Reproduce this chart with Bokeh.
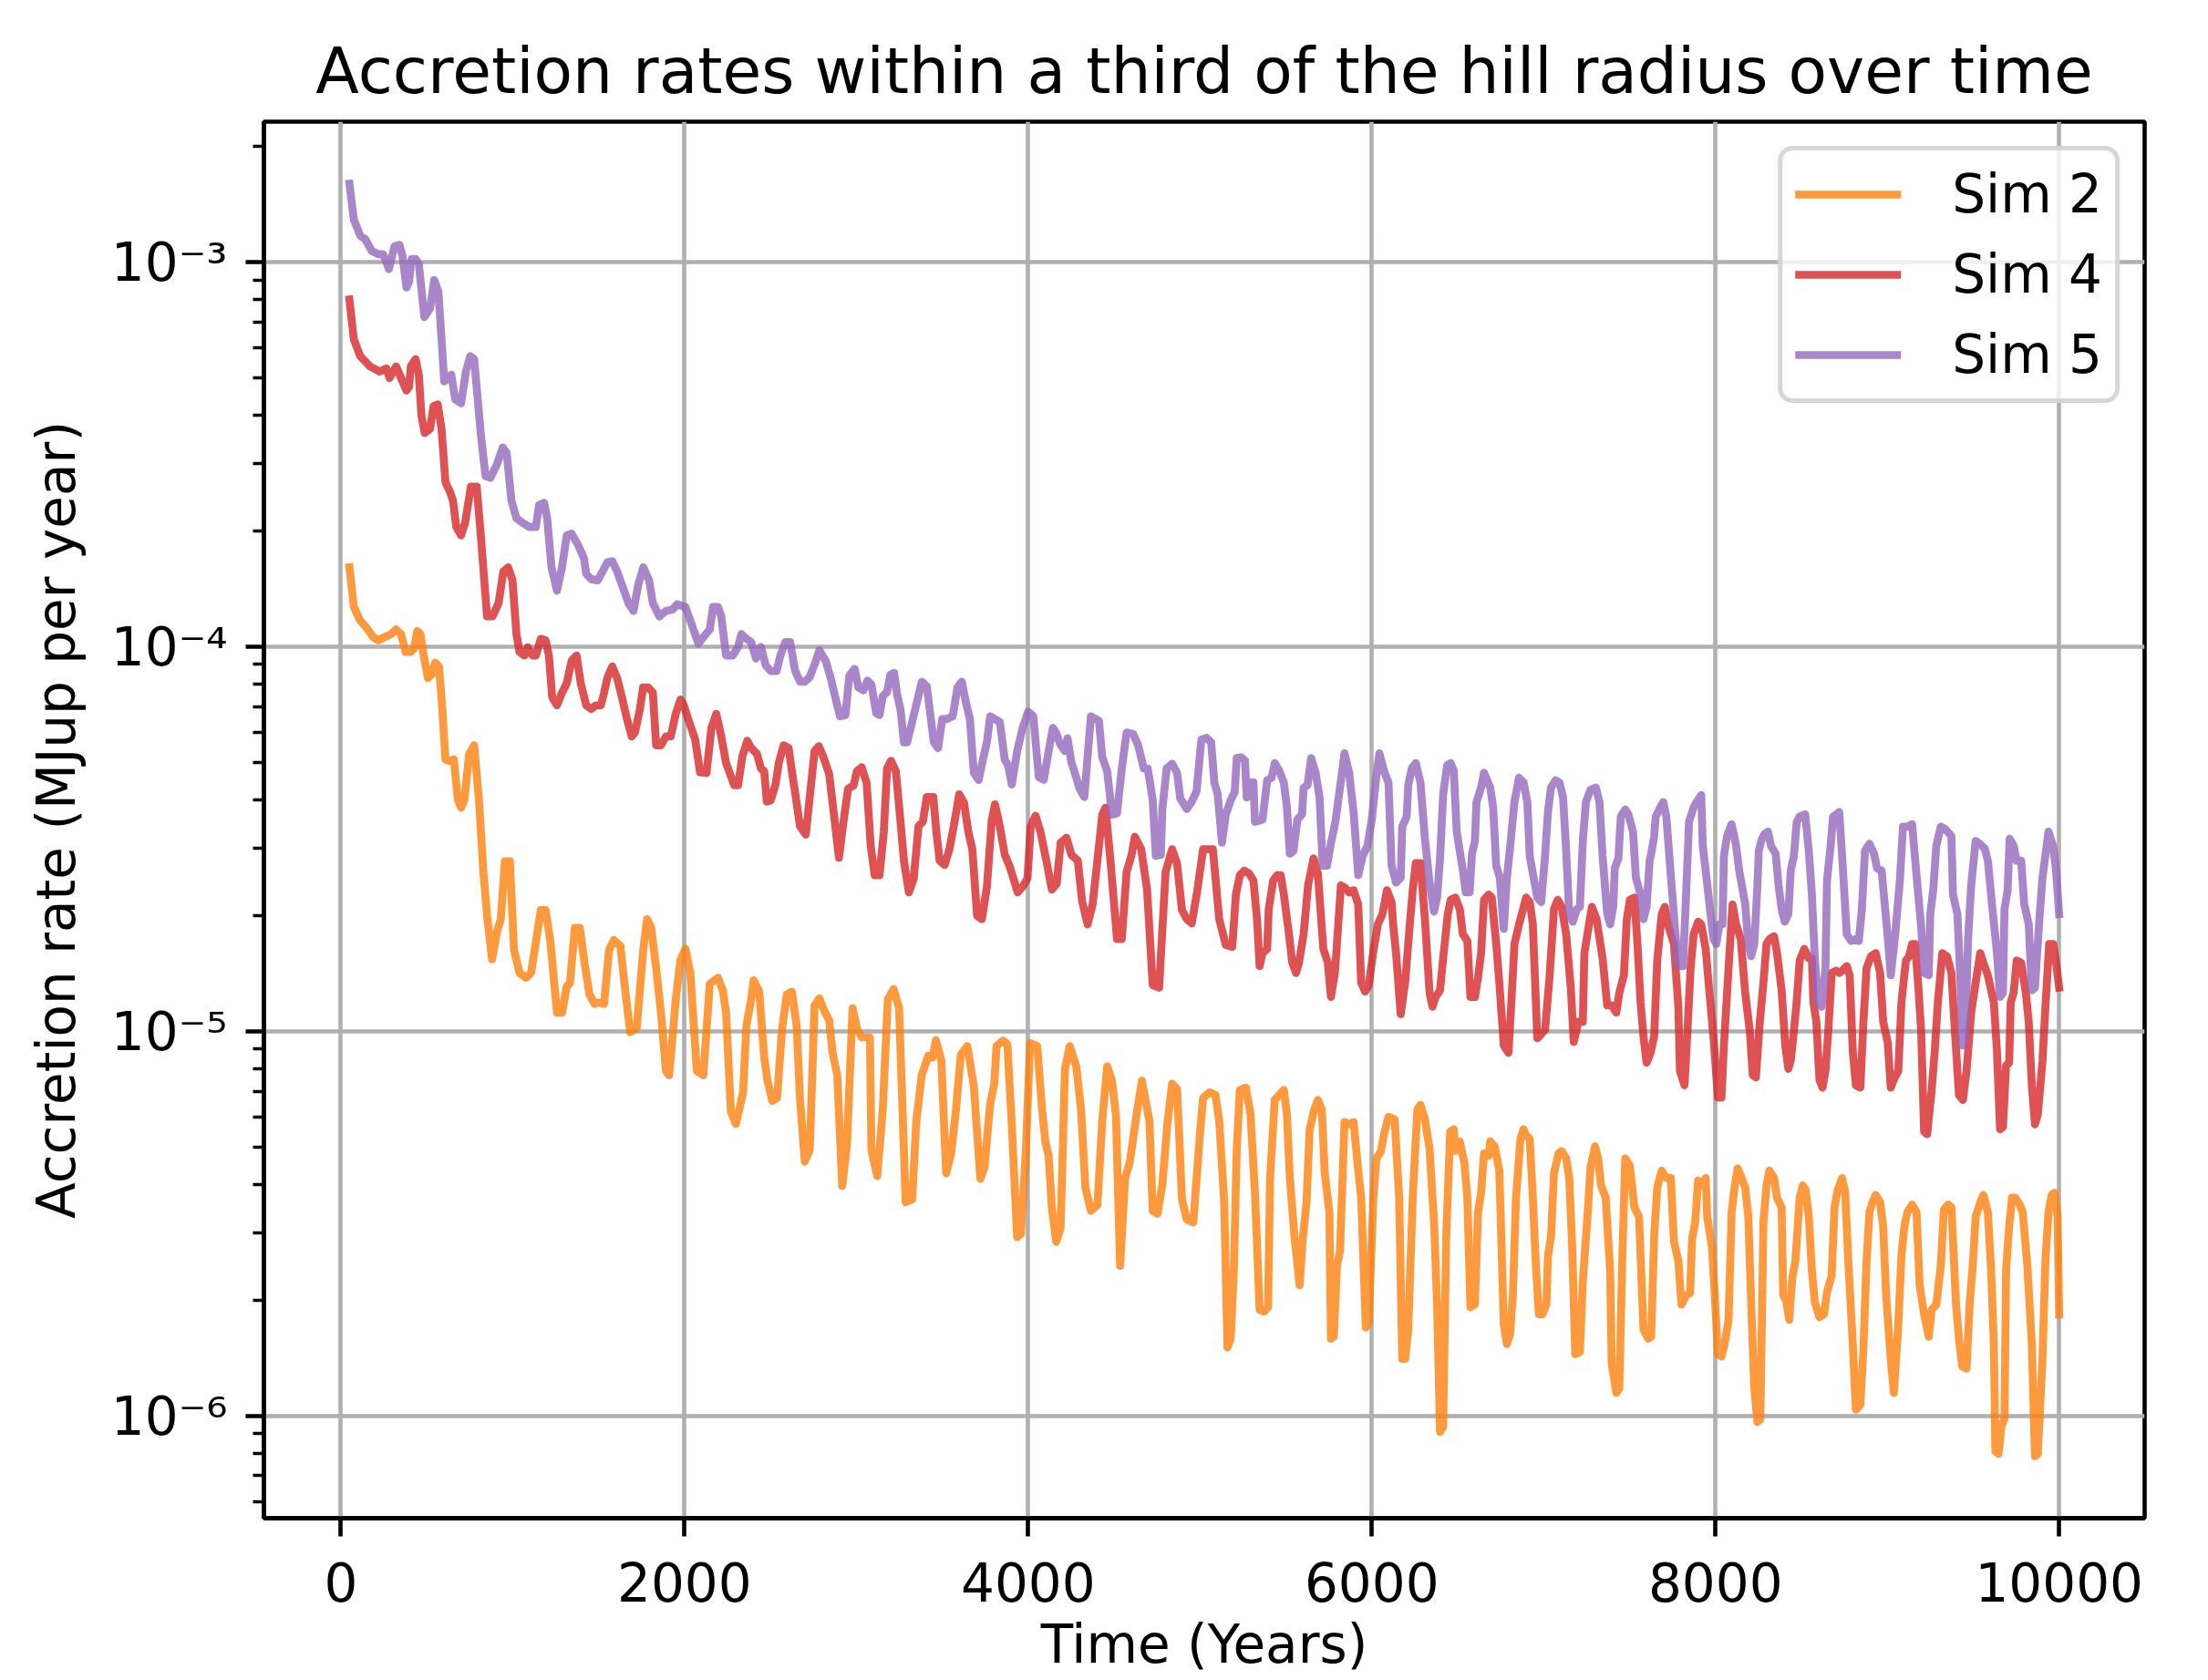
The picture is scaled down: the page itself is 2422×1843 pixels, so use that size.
from bokeh.plotting import figure
from bokeh.models import FixedTicker, Range1d
from bokeh.embed import file_html
from bokeh.resources import INLINE

FONT = "DejaVu Sans"
TITLE = "Accretion rates within a third of the hill radius over time"

# ---------------- data ----------------
sim2_years = [50, 76, 113, 151, 189, 217, 255, 293, 322, 350, 378, 407, 426, 445, 463, 482, 507, 530, 549, 571,
    586, 609, 634, 658, 681, 700, 719, 747, 776, 804, 829, 851, 880, 908, 931, 955, 984, 1008, 1040, 1078,
    1107, 1135, 1164, 1192, 1220, 1258, 1287, 1315, 1334, 1362, 1391, 1419, 1447, 1476, 1495, 1532, 1561, 1589, 1627, 1655,
    1684, 1722, 1760, 1782, 1807, 1835, 1863, 1892, 1911, 1949, 1977, 2006, 2034, 2072, 2110, 2147, 2195, 2223, 2242, 2270,
    2299, 2341, 2360, 2388, 2403, 2435, 2464, 2483, 2511, 2539, 2568, 2596, 2625, 2653, 2672, 2700, 2729, 2757, 2785, 2814,
    2842, 2861, 2889, 2918, 2946, 2978, 3003, 3031, 3079, 3088, 3122, 3154, 3183, 3217, 3249, 3287, 3325, 3349, 3381, 3419,
    3444, 3463, 3495, 3523, 3552, 3580, 3608, 3646, 3684, 3722, 3746, 3779, 3803, 3816, 3854, 3879, 3902, 3936, 3958, 3987,
    4011, 4053, 4081, 4100, 4119, 4138, 4163, 4189, 4214, 4242, 4280, 4308, 4333, 4365, 4403, 4431, 4460, 4488, 4511, 4535,
    4564, 4592, 4630, 4662, 4687, 4706, 4725, 4753, 4781, 4810, 4838, 4867, 4895, 4923, 4961, 4999, 5018, 5056, 5090, 5112,
    5141, 5160, 5179, 5197, 5214, 5232, 5267, 5294, 5320, 5347, 5373, 5396, 5408, 5435, 5461, 5488, 5506, 5523, 5550, 5580,
    5597, 5620, 5638, 5665, 5686, 5709, 5726, 5753, 5762, 5779, 5797, 5815, 5841, 5868, 5894, 5921, 5938, 5965, 5982, 6009,
    6027, 6053, 6071, 6097, 6133, 6159, 6177, 6194, 6212, 6238, 6265, 6283, 6309, 6336, 6362, 6380, 6397, 6415, 6433, 6456,
    6477, 6486, 6512, 6539, 6556, 6574, 6600, 6618, 6636, 6653, 6680, 6689, 6715, 6742, 6768, 6786, 6804, 6821, 6839, 6865,
    6883, 6893, 6919, 6937, 6955, 6972, 6993, 7016, 7025, 7043, 7060, 7087, 7105, 7131, 7149, 7166, 7184, 7211, 7228, 7255,
    7272, 7299, 7317, 7334, 7361, 7387, 7396, 7423, 7440, 7458, 7475, 7502, 7528, 7555, 7581, 7608, 7626, 7643, 7661, 7687,
    7714, 7740, 7758, 7784, 7802, 7829, 7852, 7864, 7882, 7899, 7926, 7943, 7952, 7979, 7996, 8014, 8035, 8053, 8076, 8094,
    8111, 8129, 8147, 8173, 8191, 8208, 8226, 8244, 8261, 8279, 8297, 8314, 8341, 8358, 8385, 8394, 8411, 8429, 8447, 8465,
    8490, 8508, 8525, 8543, 8561, 8578, 8605, 8631, 8649, 8676, 8693, 8711, 8737, 8755, 8773, 8799, 8817, 8843, 8861, 8879,
    8896, 8914, 8932, 8958, 8976, 8993, 9020, 9038, 9064, 9082, 9099, 9117, 9144, 9170, 9188, 9214, 9241, 9258, 9285, 9311,
    9329, 9355, 9373, 9400, 9417, 9435, 9461, 9479, 9497, 9514, 9541, 9559, 9585, 9603, 9620, 9629, 9647, 9664, 9682, 9691,
    9709, 9726, 9744, 9770, 9788, 9815, 9841, 9859, 9876, 9903, 9920, 9938, 9956, 9973, 9991, 10000]
sim2_rate = [1.61e-4, 1.27e-4, 1.17e-4, 1.12e-4, 1.06e-4, 1.04e-4, 1.06e-4, 1.08e-4, 1.11e-4, 1.08e-4, 9.7e-5, 9.7e-5, 9.9e-5, 1.10e-4, 1.08e-4, 9.5e-5, 8.3e-5, 8.5e-5, 9.1e-5, 8.9e-5,
    7.4e-5, 5.1e-5, 5.05e-5, 5.1e-5, 4.0e-5, 3.82e-5, 4.0e-5, 5.26e-5, 5.55e-5, 4.0e-5, 2.62e-5, 2.01e-5, 1.54e-5, 1.81e-5, 1.96e-5, 2.77e-5, 2.77e-5, 1.63e-5, 1.42e-5, 1.38e-5,
    1.42e-5, 1.71e-5, 2.07e-5, 2.07e-5, 1.71e-5, 1.12e-5, 1.12e-5, 1.31e-5, 1.34e-5, 1.86e-5, 1.86e-5, 1.50e-5, 1.25e-5, 1.18e-5, 1.19e-5, 1.18e-5, 1.63e-5, 1.73e-5, 1.67e-5, 1.28e-5,
    9.96e-6, 1.02e-5, 1.63e-5, 1.96e-5, 1.86e-5, 1.46e-5, 1.12e-5, 7.9e-6, 7.7e-6, 1.21e-5, 1.54e-5, 1.64e-5, 1.42e-5, 7.9e-6, 7.7e-6, 1.33e-5, 1.38e-5, 1.28e-5, 1.12e-5, 6.2e-6,
    5.75e-6, 6.95e-6, 1.035e-5, 1.21e-5, 1.36e-5, 1.27e-5, 8.56e-6, 7.45e-6, 6.6e-6, 6.72e-6, 1.02e-5, 1.25e-5, 1.27e-5, 1.035e-5, 6.72e-6, 4.59e-6, 4.92e-6, 1.17e-5, 1.22e-5, 1.13e-5,
    1.07e-5, 8.86e-6, 7.71e-6, 3.97e-6, 5.09e-6, 1.15e-5, 1.02e-5, 9.66e-6, 9.66e-6, 4.92e-6, 4.21e-6, 6.27e-6, 1.21e-5, 1.29e-5, 1.15e-5, 3.6e-6, 3.66e-6, 5.85e-6, 7.71e-6, 8.65e-6,
    8.56e-6, 9.5e-6, 8.41e-6, 4.28e-6, 4.83e-6, 6.27e-6, 8.7e-6, 9.17e-6, 7.2e-6, 4.14e-6, 4.44e-6, 6.49e-6, 7.32e-6, 9.17e-6, 9.47e-6, 9.28e-6, 6.05e-6, 2.92e-6, 2.98e-6, 4.92e-6,
    9.33e-6, 9.17e-6, 6.27e-6, 5.18e-6, 4.75e-6, 3.48e-6, 2.84e-6, 3.08e-6, 7.98e-6, 9.17e-6, 8.12e-6, 6.27e-6, 3.93e-6, 3.42e-6, 3.54e-6, 5.85e-6, 8.12e-6, 7.45e-6, 6.05e-6, 2.46e-6,
    4.14e-6, 4.59e-6, 6.05e-6, 7.45e-6, 6.49e-6, 5.85e-6, 3.42e-6, 3.36e-6, 4.0e-6, 5.75e-6, 7.32e-6, 7.08e-6, 3.66e-6, 3.25e-6, 3.19e-6, 5.36e-6, 6.72e-6, 6.95e-6, 6.84e-6, 5.85e-6,
    3.6e-6, 1.51e-6, 1.59e-6, 2.39e-6, 4.96e-6, 7.05e-6, 7.15e-6, 6.09e-6, 3.81e-6, 1.89e-6, 1.87e-6, 1.92e-6, 4.16e-6, 6.64e-6, 6.84e-6, 7.05e-6, 6.09e-6, 4.16e-6, 2.93e-6, 2.19e-6,
    2.85e-6, 3.6e-6, 5.57e-6, 6.27e-6, 6.64e-6, 6.27e-6, 4.29e-6, 3.39e-6, 1.59e-6, 1.61e-6, 2.46e-6, 2.69e-6, 5.82e-6, 5.74e-6, 5.82e-6, 4.35e-6, 3.7e-6, 1.7e-6, 1.76e-6, 3.7e-6,
    4.68e-6, 4.89e-6, 5.41e-6, 6.0e-6, 5.91e-6, 3.7e-6, 1.41e-6, 1.41e-6, 1.68e-6, 3.7e-6, 6.27e-6, 6.45e-6, 5.91e-6, 4.96e-6, 3.2e-6, 1.95e-6, 9.1e-7, 9.4e-7, 2.93e-6, 5.49e-6,
    5.57e-6, 4.89e-6, 5.18e-6, 4.54e-6, 3.7e-6, 1.92e-6, 1.95e-6, 3.39e-6, 3.81e-6, 4.82e-6, 4.75e-6, 5.18e-6, 5.03e-6, 4.35e-6, 1.73e-6, 1.54e-6, 1.63e-6, 2.06e-6, 3.7e-6, 5.26e-6,
    5.57e-6, 5.41e-6, 5.26e-6, 3.7e-6, 2.46e-6, 1.84e-6, 1.84e-6, 1.95e-6, 2.61e-6, 2.93e-6, 4.29e-6, 4.82e-6, 4.89e-6, 4.68e-6, 4.16e-6, 2.76e-6, 1.45e-6, 1.47e-6, 2.25e-6, 3.3e-6,
    4.41e-6, 5.03e-6, 4.68e-6, 3.98e-6, 3.7e-6, 2.39e-6, 1.37e-6, 1.15e-6, 1.18e-6, 2.61e-6, 4.68e-6, 4.47e-6, 3.49e-6, 3.3e-6, 1.68e-6, 1.59e-6, 1.61e-6, 2.93e-6, 3.93e-6, 4.35e-6,
    4.16e-6, 4.16e-6, 2.85e-6, 2.53e-6, 1.95e-6, 2.06e-6, 2.09e-6, 2.89e-6, 3.2e-6, 4.1e-6, 3.98e-6, 4.16e-6, 3.3e-6, 2.76e-6, 2.06e-6, 1.45e-6, 1.43e-6, 1.54e-6, 1.78e-6, 3.39e-6,
    3.93e-6, 4.41e-6, 4.22e-6, 3.93e-6, 3.3e-6, 1.95e-6, 1.18e-6, 9.66e-7, 9.8e-7, 3.2e-6, 3.98e-6, 4.35e-6, 4.16e-6, 3.7e-6, 3.49e-6, 2.06e-6, 2.0e-6, 1.78e-6, 2.29e-6, 2.53e-6,
    3.7e-6, 3.98e-6, 3.87e-6, 3.3e-6, 2.39e-6, 1.98e-6, 1.81e-6, 1.84e-6, 2.1e-6, 2.32e-6, 3.49e-6, 3.87e-6, 4.16e-6, 3.81e-6, 2.53e-6, 1.54e-6, 1.04e-6, 1.07e-6, 1.5e-6, 2.53e-6,
    3.39e-6, 3.6e-6, 3.76e-6, 3.6e-6, 3.11e-6, 2.06e-6, 1.41e-6, 1.15e-6, 1.73e-6, 2.61e-6, 3.11e-6, 3.39e-6, 3.55e-6, 3.39e-6, 2.19e-6, 1.84e-6, 1.61e-6, 1.89e-6, 1.95e-6, 2.46e-6,
    3.44e-6, 3.55e-6, 3.49e-6, 1.95e-6, 1.59e-6, 1.35e-6, 1.33e-6, 1.95e-6, 2.46e-6, 3.3e-6, 3.6e-6, 3.76e-6, 3.39e-6, 2.46e-6, 1.54e-6, 8.1e-7, 7.98e-7, 9.4e-7, 9.9e-7, 2.39e-6,
    3.11e-6, 3.7e-6, 3.7e-6, 3.55e-6, 3.39e-6, 2.46e-6, 1.54e-6, 7.87e-7, 7.98e-7, 1.41e-6, 2.53e-6, 3.39e-6, 3.76e-6, 3.81e-6, 3.3e-6, 1.84e-6]

sim4_years = [50, 76, 113, 170, 227, 265, 284, 322, 359, 382, 397, 407, 435, 454, 469, 488, 520, 539, 564, 586,
    609, 634, 653, 672, 700, 723, 757, 791, 817, 851, 883, 918, 946, 974, 999, 1022, 1040, 1069, 1088, 1116,
    1135, 1164, 1192, 1211, 1230, 1258, 1287, 1315, 1343, 1372, 1396, 1428, 1457, 1485, 1513, 1532, 1551, 1580, 1608, 1636,
    1665, 1693, 1712, 1741, 1759, 1788, 1816, 1835, 1863, 1892, 1920, 1949, 1977, 1996, 2024, 2062, 2091, 2128, 2157, 2185,
    2214, 2242, 2289, 2312, 2337, 2365, 2388, 2422, 2445, 2464, 2479, 2502, 2530, 2549, 2577, 2606, 2625, 2643, 2672, 2706,
    2729, 2757, 2782, 2808, 2842, 2870, 2899, 2927, 2952, 2984, 3003, 3031, 3060, 3084, 3107, 3135, 3160, 3179, 3202, 3230,
    3255, 3277, 3306, 3334, 3362, 3387, 3410, 3448, 3466, 3485, 3514, 3542, 3570, 3599, 3627, 3652, 3675, 3703, 3731, 3760,
    3788, 3807, 3835, 3864, 3892, 3939, 3968, 3996, 4015, 4043, 4072, 4106, 4138, 4166, 4189, 4223, 4252, 4289, 4314, 4346,
    4375, 4403, 4431, 4450, 4479, 4517, 4545, 4573, 4602, 4621, 4658, 4692, 4725, 4762, 4800, 4838, 4867, 4895, 4923, 4952,
    4984, 5018, 5075, 5112, 5150, 5188, 5209, 5232, 5258, 5285, 5311, 5332, 5347, 5364, 5391, 5400, 5426, 5449, 5470, 5488,
    5514, 5537, 5559, 5576, 5603, 5629, 5661, 5686, 5718, 5744, 5762, 5785, 5797, 5820, 5841, 5868, 5894, 5921, 5938, 5961,
    5982, 6009, 6035, 6062, 6088, 6115, 6124, 6141, 6168, 6194, 6221, 6238, 6256, 6283, 6309, 6336, 6353, 6371, 6397, 6415,
    6442, 6459, 6486, 6512, 6530, 6556, 6574, 6600, 6618, 6636, 6653, 6680, 6698, 6724, 6742, 6768, 6795, 6812, 6830, 6857,
    6898, 6919, 6937, 6955, 6963, 6986, 7008, 7034, 7060, 7082, 7105, 7131, 7158, 7175, 7202, 7228, 7237, 7264, 7281, 7308,
    7343, 7370, 7396, 7423, 7440, 7467, 7484, 7502, 7528, 7546, 7564, 7581, 7599, 7622, 7643, 7661, 7687, 7705, 7723, 7758,
    7784, 7793, 7820, 7838, 7855, 7873, 7899, 7917, 7943, 7965, 7988, 8014, 8035, 8049, 8076, 8099, 8120, 8147, 8173, 8200,
    8217, 8235, 8258, 8279, 8297, 8314, 8341, 8358, 8385, 8406, 8424, 8438, 8456, 8472, 8490, 8517, 8543, 8561, 8570, 8587,
    8605, 8623, 8640, 8658, 8676, 8702, 8720, 8737, 8764, 8781, 8799, 8817, 8843, 8861, 8879, 8905, 8932, 8958, 8976, 9002,
    9020, 9038, 9064, 9082, 9108, 9126, 9144, 9161, 9179, 9197, 9214, 9232, 9258, 9276, 9294, 9320, 9347, 9373, 9391, 9417,
    9440, 9461, 9488, 9514, 9541, 9559, 9585, 9620, 9638, 9656, 9673, 9691, 9709, 9718, 9735, 9753, 9779, 9806, 9823, 9841,
    9859, 9876, 9903, 9920, 9942, 9965, 9982, 10000]
sim4_rate = [8.0e-4, 6.3e-4, 5.7e-4, 5.36e-4, 5.2e-4, 5.3e-4, 5.0e-4, 5.36e-4, 4.9e-4, 4.64e-4, 4.74e-4, 5.36e-4, 5.6e-4, 5.1e-4, 4.0e-4, 3.6e-4, 3.69e-4, 4.22e-4, 4.27e-4, 3.69e-4,
    2.68e-4, 2.54e-4, 2.40e-4, 2.05e-4, 1.95e-4, 2.10e-4, 2.61e-4, 2.61e-4, 1.89e-4, 1.20e-4, 1.20e-4, 1.30e-4, 1.57e-4, 1.61e-4, 1.49e-4, 1.08e-4, 9.7e-5, 9.5e-5, 9.98e-5, 9.5e-5,
    9.5e-5, 1.05e-4, 1.04e-4, 9.5e-5, 7.4e-5, 7.05e-5, 7.6e-5, 8.05e-5, 9.2e-5, 9.5e-5, 8.05e-5, 7.05e-5, 6.9e-5, 7.05e-5, 7.05e-5, 7.6e-5, 8.3e-5, 8.9e-5, 8.3e-5, 7.4e-5,
    6.5e-5, 5.85e-5, 6.0e-5, 6.9e-5, 7.85e-5, 7.85e-5, 7.6e-5, 5.55e-5, 5.55e-5, 5.85e-5, 5.85e-5, 6.7e-5, 7.3e-5, 7.05e-5, 6.45e-5, 5.75e-5, 4.72e-5, 4.7e-5, 6.17e-5, 6.7e-5,
    5.85e-5, 4.99e-5, 4.37e-5, 4.37e-5, 5.2e-5, 5.7e-5, 5.46e-5, 5.27e-5, 4.83e-5, 4.75e-5, 3.96e-5, 3.99e-5, 4.39e-5, 5.0e-5, 5.55e-5, 5.46e-5, 4.75e-5, 4.21e-5, 3.42e-5, 3.25e-5,
    4.07e-5, 5.36e-5, 5.52e-5, 5.18e-5, 4.67e-5, 3.66e-5, 2.83e-5, 3.56e-5, 4.28e-5, 4.36e-5, 4.75e-5, 4.87e-5, 4.43e-5, 3.03e-5, 2.55e-5, 2.55e-5, 3.3e-5, 4.83e-5, 5.06e-5, 4.75e-5,
    3.6e-5, 2.78e-5, 2.3e-5, 2.5e-5, 3.42e-5, 3.51e-5, 4.07e-5, 4.07e-5, 3.3e-5, 2.78e-5, 2.71e-5, 2.98e-5, 3.48e-5, 4.14e-5, 3.93e-5, 3.3e-5, 2.98e-5, 2.0e-5, 1.96e-5, 2.38e-5,
    3.54e-5, 3.9e-5, 3.42e-5, 2.88e-5, 2.69e-5, 2.3e-5, 2.38e-5, 2.5e-5, 3.42e-5, 3.64e-5, 3.3e-5, 2.78e-5, 2.34e-5, 2.42e-5, 3.1e-5, 3.19e-5, 2.88e-5, 2.78e-5, 2.18e-5, 1.9e-5,
    2.14e-5, 2.78e-5, 3.66e-5, 3.82e-5, 2.78e-5, 1.74e-5, 1.74e-5, 2.6e-5, 2.88e-5, 3.21e-5, 2.98e-5, 2.34e-5, 1.32e-5, 1.30e-5, 2.6e-5, 2.98e-5, 2.73e-5, 2.07e-5, 1.96e-5, 1.91e-5,
    2.32e-5, 2.98e-5, 2.98e-5, 1.96e-5, 1.68e-5, 1.66e-5, 2.27e-5, 2.55e-5, 2.62e-5, 2.58e-5, 2.47e-5, 1.96e-5, 1.48e-5, 1.6e-5, 1.64e-5, 2.08e-5, 2.47e-5, 2.55e-5, 2.55e-5, 2.27e-5,
    1.85e-5, 1.51e-5, 1.42e-5, 1.51e-5, 1.79e-5, 2.4e-5, 2.82e-5, 2.58e-5, 1.64e-5, 1.51e-5, 1.23e-5, 1.42e-5, 1.69e-5, 2.4e-5, 2.37e-5, 2.3e-5, 2.33e-5, 2.14e-5, 1.34e-5, 1.27e-5,
    1.32e-5, 1.62e-5, 1.9e-5, 2.02e-5, 2.33e-5, 2.17e-5, 1.9e-5, 1.6e-5, 1.11e-5, 1.34e-5, 1.9e-5, 2.33e-5, 2.74e-5, 2.74e-5, 1.96e-5, 1.26e-5, 1.16e-5, 1.23e-5, 1.28e-5, 1.55e-5,
    2.02e-5, 2.2e-5, 2.23e-5, 2.08e-5, 1.79e-5, 1.72e-5, 1.23e-5, 1.23e-5, 1.38e-5, 1.6e-5, 2.2e-5, 2.27e-5, 2.23e-5, 1.69e-5, 1.34e-5, 9.2e-6, 8.8e-6, 1.19e-5, 1.69e-5, 1.9e-5,
    2.23e-5, 2.17e-5, 1.9e-5, 1.19e-5, 9.6e-6, 9.85e-6, 1.01e-5, 1.38e-5, 2.08e-5, 2.2e-5, 2.11e-5, 1.79e-5, 1.3e-5, 9.4e-6, 1.06e-5, 1.06e-5, 1.6e-5, 1.9e-5, 2.11e-5, 1.96e-5,
    1.55e-5, 1.17e-5, 1.17e-5, 1.12e-5, 1.26e-5, 1.4e-5, 1.96e-5, 2.2e-5, 2.23e-5, 1.69e-5, 1.19e-5, 9.7e-6, 8.3e-6, 8.8e-6, 9.7e-6, 1.53e-5, 2.02e-5, 2.11e-5, 1.9e-5, 1.69e-5,
    1.16e-5, 7.9e-6, 7.25e-6, 1.03e-5, 1.46e-5, 1.79e-5, 1.93e-5, 1.9e-5, 1.64e-5, 1.26e-5, 9.7e-6, 6.74e-6, 6.74e-6, 9.2e-6, 1.46e-5, 2.14e-5, 1.9e-5, 1.74e-5, 1.26e-5, 1.0e-5,
    7.7e-6, 7.6e-6, 1.06e-5, 1.34e-5, 1.69e-5, 1.74e-5, 1.77e-5, 1.6e-5, 1.28e-5, 9.2e-6, 8.0e-6, 8.4e-6, 1.0e-5, 1.19e-5, 1.53e-5, 1.64e-5, 1.55e-5, 1.55e-5, 1.19e-5, 1.06e-5,
    7.5e-6, 7.15e-6, 7.9e-6, 1.03e-5, 1.42e-5, 1.44e-5, 1.42e-5, 1.44e-5, 1.48e-5, 1.4e-5, 8.9e-6, 7.25e-6, 7.15e-6, 1.06e-5, 1.46e-5, 1.57e-5, 1.6e-5, 1.42e-5, 1.06e-5, 9.4e-6,
    7.15e-6, 7.5e-6, 7.9e-6, 1.19e-5, 1.53e-5, 1.57e-5, 1.69e-5, 1.69e-5, 1.34e-5, 1.0e-5, 5.49e-6, 5.41e-6, 7.05e-6, 8.9e-6, 1.19e-5, 1.6e-5, 1.57e-5, 1.42e-5, 1.04e-5, 6.84e-6,
    6.64e-6, 7.9e-6, 1.12e-5, 1.34e-5, 1.6e-5, 1.51e-5, 1.4e-5, 1.19e-5, 8.9e-6, 5.57e-6, 5.65e-6, 8.15e-6, 8.3e-6, 1.19e-5, 1.26e-5, 1.53e-5, 1.51e-5, 1.26e-5, 1.06e-5, 7.25e-6,
    5.74e-6, 6.09e-6, 8.4e-6, 1.16e-5, 1.69e-5, 1.69e-5, 1.51e-5, 1.3e-5]

sim5_years = [50, 76, 114, 142, 180, 218, 246, 280, 312, 341, 359, 382, 397, 412, 435, 454, 486, 520, 543, 568,
    602, 643, 666, 700, 728, 753, 776, 814, 842, 870, 908, 942, 965, 993, 1022, 1060, 1097, 1135, 1154, 1183,
    1201, 1226, 1258, 1287, 1315, 1343, 1381, 1415, 1428, 1457, 1495, 1523, 1551, 1580, 1608, 1646, 1674, 1703, 1731, 1760,
    1794, 1816, 1854, 1892, 1930, 1958, 2006, 2043, 2081, 2110, 2147, 2166, 2195, 2214, 2242, 2280, 2312, 2331, 2360, 2388,
    2416, 2445, 2473, 2502, 2536, 2558, 2587, 2615, 2643, 2672, 2700, 2729, 2757, 2785, 2823, 2852, 2880, 2905, 2937, 2959,
    2990, 3012, 3041, 3065, 3088, 3116, 3135, 3154, 3179, 3198, 3220, 3236, 3258, 3277, 3296, 3325, 3353, 3381, 3410, 3432,
    3451, 3476, 3500, 3523, 3561, 3589, 3614, 3637, 3661, 3684, 3712, 3735, 3760, 3779, 3807, 3835, 3864, 3883, 3905, 3936,
    3968, 4000, 4030, 4062, 4091, 4119, 4144, 4166, 4185, 4214, 4229, 4252, 4276, 4299, 4327, 4365, 4412, 4431, 4460, 4488,
    4517, 4545, 4573, 4611, 4640, 4673, 4696, 4725, 4743, 4772, 4781, 4806, 4838, 4867, 4885, 4923, 4952, 4980, 5008, 5037,
    5065, 5084, 5103, 5128, 5150, 5179, 5202, 5214, 5241, 5262, 5272, 5297, 5311, 5320, 5343, 5364, 5391, 5417, 5435, 5461,
    5488, 5506, 5523, 5544, 5567, 5594, 5603, 5626, 5647, 5673, 5696, 5714, 5739, 5762, 5788, 5815, 5841, 5868, 5894, 5921,
    5947, 5974, 6000, 6027, 6044, 6074, 6097, 6115, 6141, 6168, 6177, 6203, 6212, 6233, 6256, 6283, 6309, 6336, 6362, 6380,
    6397, 6415, 6438, 6459, 6477, 6494, 6530, 6547, 6569, 6583, 6600, 6609, 6636, 6653, 6689, 6706, 6724, 6745, 6768, 6786,
    6804, 6830, 6857, 6884, 6905, 6919, 6937, 6963, 6986, 7008, 7025, 7043, 7069, 7092, 7113, 7131, 7149, 7170, 7193, 7211,
    7228, 7246, 7272, 7304, 7325, 7343, 7370, 7387, 7405, 7414, 7435, 7449, 7475, 7493, 7520, 7537, 7564, 7581, 7599, 7617,
    7626, 7643, 7652, 7679, 7696, 7714, 7740, 7767, 7784, 7811, 7829, 7846, 7873, 7890, 7917, 7926, 7943, 7965, 7988, 8005,
    8023, 8041, 8049, 8067, 8094, 8120, 8138, 8173, 8191, 8208, 8226, 8244, 8252, 8270, 8288, 8306, 8323, 8350, 8367, 8385,
    8403, 8424, 8438, 8456, 8473, 8490, 8522, 8543, 8561, 8578, 8596, 8617, 8640, 8649, 8670, 8684, 8720, 8737, 8764, 8790,
    8817, 8834, 8852, 8870, 8896, 8923, 8940, 8967, 8985, 9006, 9020, 9046, 9073, 9091, 9117, 9144, 9170, 9197, 9214, 9241,
    9250, 9267, 9285, 9311, 9338, 9373, 9382, 9408, 9426, 9435, 9453, 9470, 9488, 9514, 9536, 9567, 9585, 9612, 9638, 9656,
    9673, 9682, 9700, 9712, 9735, 9753, 9779, 9797, 9823, 9841, 9859, 9885, 9903, 9938, 9965, 9982, 10000]
sim5_rate = [1.60e-3, 1.29e-3, 1.17e-3, 1.15e-3, 1.07e-3, 1.05e-3, 1.05e-3, 9.6e-4, 1.10e-3, 1.11e-3, 1.04e-3, 8.6e-4, 8.9e-4, 1.02e-3, 1.02e-3, 9.9e-4, 7.2e-4, 7.6e-4, 9.0e-4, 8.4e-4,
    4.9e-4, 5.1e-4, 4.4e-4, 4.3e-4, 5.2e-4, 5.7e-4, 5.6e-4, 3.6e-4, 2.78e-4, 2.75e-4, 2.98e-4, 3.3e-4, 3.2e-4, 2.40e-4, 2.16e-4, 2.10e-4, 2.05e-4, 2.05e-4, 2.34e-4, 2.37e-4,
    2.16e-4, 1.61e-4, 1.40e-4, 1.61e-4, 1.95e-4, 1.97e-4, 1.84e-4, 1.70e-4, 1.55e-4, 1.50e-4, 1.49e-4, 1.57e-4, 1.66e-4, 1.67e-4, 1.57e-4, 1.41e-4, 1.30e-4, 1.24e-4, 1.45e-4, 1.61e-4,
    1.49e-4, 1.30e-4, 1.20e-4, 1.24e-4, 1.25e-4, 1.29e-4, 1.27e-4, 1.14e-4, 1.02e-4, 1.06e-4, 1.11e-4, 1.27e-4, 1.27e-4, 1.20e-4, 9.5e-5, 9.5e-5, 1.0e-4, 1.08e-4, 1.05e-4, 1.03e-4,
    9.33e-5, 1.0e-4, 8.95e-5, 8.65e-5, 8.65e-5, 9.5e-5, 1.03e-4, 1.03e-4, 8.7e-5, 8.12e-5, 8.12e-5, 8.35e-5, 9.0e-5, 9.8e-5, 9.17e-5, 8.27e-5, 7.32e-5, 6.6e-5, 6.65e-5, 8.41e-5,
    8.77e-5, 7.85e-5, 7.71e-5, 8.18e-5, 7.98e-5, 6.72e-5, 6.65e-5, 7.45e-5, 7.63e-5, 8.47e-5, 8.56e-5, 7.58e-5, 6.84e-5, 5.65e-5, 5.65e-5, 6.38e-5, 7.2e-5, 8.12e-5, 7.9e-5, 6.6e-5,
    5.65e-5, 5.46e-5, 6.49e-5, 6.49e-5, 6.6e-5, 7.85e-5, 8.12e-5, 7.2e-5, 6.49e-5, 4.7e-5, 4.51e-5, 5.05e-5, 5.65e-5, 6.6e-5, 6.49e-5, 6.38e-5, 5.09e-5, 4.92e-5, 4.39e-5, 5.36e-5,
    6.16e-5, 6.79e-5, 6.6e-5, 4.59e-5, 4.51e-5, 5.36e-5, 6.16e-5, 5.94e-5, 5.6e-5, 5.36e-5, 5.79e-5, 5.0e-5, 4.64e-5, 4.28e-5, 4.07e-5, 6.6e-5, 6.42e-5, 5.18e-5, 4.75e-5, 3.66e-5,
    3.69e-5, 4.83e-5, 5.99e-5, 5.94e-5, 5.55e-5, 4.83e-5, 4.83e-5, 4.0e-5, 2.86e-5, 2.88e-5, 3.79e-5, 4.83e-5, 4.97e-5, 4.7e-5, 4.04e-5, 3.79e-5, 3.96e-5, 4.21e-5, 5.74e-5, 5.8e-5,
    5.65e-5, 4.43e-5, 4.14e-5, 3.1e-5, 3.66e-5, 4.0e-5, 4.19e-5, 5.14e-5, 5.16e-5, 5.06e-5, 4.06e-5, 4.44e-5, 4.44e-5, 3.51e-5, 3.53e-5, 3.56e-5, 4.5e-5, 4.57e-5, 4.99e-5, 4.77e-5,
    4.44e-5, 3.83e-5, 2.9e-5, 2.95e-5, 3.56e-5, 3.67e-5, 4.31e-5, 4.37e-5, 5.14e-5, 4.71e-5, 4.06e-5, 2.7e-5, 2.7e-5, 3.08e-5, 3.51e-5, 4.31e-5, 5.29e-5, 4.71e-5, 3.72e-5, 2.55e-5,
    2.86e-5, 3.04e-5, 3.56e-5, 4.63e-5, 5.29e-5, 4.71e-5, 4.44e-5, 2.7e-5, 2.44e-5, 2.51e-5, 3.41e-5, 3.62e-5, 4.37e-5, 4.84e-5, 4.99e-5, 4.44e-5, 3.17e-5, 2.44e-5, 2.05e-5, 2.23e-5,
    2.82e-5, 4.12e-5, 4.92e-5, 4.99e-5, 4.77e-5, 3.31e-5, 2.62e-5, 2.3e-5, 2.3e-5, 2.9e-5, 3.13e-5, 3.95e-5, 4.31e-5, 4.71e-5, 4.31e-5, 3.83e-5, 2.7e-5, 2.51e-5, 1.85e-5, 2.51e-5,
    2.99e-5, 3.95e-5, 4.57e-5, 4.44e-5, 3.95e-5, 2.86e-5, 2.58e-5, 2.23e-5, 2.17e-5, 2.86e-5, 3.72e-5, 4.31e-5, 4.5e-5, 4.44e-5, 4.06e-5, 2.95e-5, 2.02e-5, 1.93e-5, 2.08e-5, 2.11e-5,
    3.13e-5, 3.95e-5, 4.25e-5, 4.31e-5, 3.95e-5, 2.86e-5, 2.02e-5, 1.9e-5, 2.11e-5, 2.66e-5, 2.82e-5, 3.62e-5, 3.78e-5, 3.67e-5, 3.31e-5, 2.51e-5, 2.27e-5, 1.96e-5, 2.11e-5, 2.78e-5,
    2.9e-5, 3.22e-5, 3.62e-5, 3.83e-5, 3.95e-5, 3.62e-5, 2.55e-5, 1.79e-5, 1.48e-5, 1.48e-5, 2.27e-5, 3.51e-5, 3.83e-5, 3.95e-5, 4.12e-5, 3.04e-5, 2.62e-5, 2.14e-5, 1.74e-5, 1.69e-5,
    1.9e-5, 1.9e-5, 2.86e-5, 3.22e-5, 3.46e-5, 3.04e-5, 2.62e-5, 2.14e-5, 1.69e-5, 1.57e-5, 1.69e-5, 2.4e-5, 2.95e-5, 3.17e-5, 3.27e-5, 3.31e-5, 3.04e-5, 2.9e-5, 2.4e-5, 2.08e-5,
    1.93e-5, 2.02e-5, 2.62e-5, 2.86e-5, 3.51e-5, 3.62e-5, 3.67e-5, 2.95e-5, 2.27e-5, 1.55e-5, 1.19e-5, 1.16e-5, 1.46e-5, 2.47e-5, 3.04e-5, 3.62e-5, 3.72e-5, 2.86e-5, 1.79e-5, 1.72e-5,
    1.74e-5, 1.72e-5, 2.08e-5, 2.95e-5, 3.08e-5, 2.9e-5, 2.66e-5, 2.62e-5, 2.14e-5, 1.69e-5, 1.4e-5, 1.79e-5, 2.47e-5, 3.41e-5, 3.41e-5, 3.46e-5, 2.55e-5, 1.87e-5, 1.42e-5, 1.4e-5,
    2.02e-5, 2.33e-5, 3.04e-5, 3.41e-5, 3.36e-5, 3.22e-5, 2.27e-5, 2.02e-5, 1.34e-5, 9.2e-6, 9.7e-6, 1.74e-5, 2.4e-5, 3.13e-5, 3.08e-5, 2.99e-5, 2.78e-5, 2.08e-5, 1.6e-5, 1.23e-5,
    1.26e-5, 2.08e-5, 2.33e-5, 3.17e-5, 3.04e-5, 2.78e-5, 2.78e-5, 2.14e-5, 1.9e-5, 1.28e-5, 1.3e-5, 1.96e-5, 2.51e-5, 3.31e-5, 3.04e-5, 2.62e-5, 2.02e-5]

series_names = ["Sim 2", "Sim 4", "Sim 5"]
series_colors = ["#ff7f0e", "#d62728", "#9467bd"]
x_ticks = [0, 2000, 4000, 6000, 8000, 10000]
y_major = [1e-6, 1e-5, 1e-4, 1e-3]
y_labels = ["10\u207b\u2076", "10\u207b\u2075", "10\u207b\u2074", "10\u207b\u00b3"]
y_minor = [m * d for d in [1e-7, 1e-6, 1e-5, 1e-4, 1e-3] for m in range(2, 10)]

# ---------------- figure ----------------
p = figure(width=2416, height=1840, y_axis_type="log",
           x_range=Range1d(-447.5, 10497.5), y_range=Range1d(5.43e-7, 2.32e-3),
           output_backend="svg", toolbar_location=None, title=TITLE,
           min_border_left=289, min_border_right=64, min_border_top=133, min_border_bottom=171)

p.title.text_font = FONT
p.title.text_font_size = "69.5px"
p.title.text_font_style = "normal"
p.title.text_color = "black"
p.title.align = "center"
p.title.standoff = 32

for xs, ys, name, col in zip([sim2_years, sim4_years, sim5_years],
                             [sim2_rate, sim4_rate, sim5_rate],
                             series_names, series_colors):
    p.line(xs, ys, line_color=col, line_alpha=0.8, line_width=8.7,
           line_join="round", line_cap="square", legend_label=name)

# axes
p.xaxis.ticker = FixedTicker(ticks=x_ticks, minor_ticks=[])
p.yaxis.ticker = FixedTicker(ticks=y_major, minor_ticks=y_minor)
p.yaxis.major_label_overrides = {v: t for v, t in zip(y_major, y_labels)}

p.xaxis.axis_label = "Time (Years)"
p.yaxis.axis_label = "Accretion rate (MJup per year)"
for ax in p.axis:
    ax.axis_label_text_font = FONT
    ax.axis_label_text_font_size = "58px"
    ax.axis_label_text_font_style = "normal"
    ax.axis_label_text_color = "black"
    ax.major_label_text_font = FONT
    ax.major_label_text_font_size = "58px"
    ax.major_label_text_color = "black"
    ax.axis_line_color = "black"
    ax.axis_line_width = 4.6
    ax.major_tick_out = 20
    ax.major_tick_in = 0
    ax.major_tick_line_width = 4.6
    ax.major_tick_line_color = "black"
    ax.minor_tick_out = 12
    ax.minor_tick_in = 0
    ax.minor_tick_line_width = 3.5
    ax.minor_tick_line_color = "black"
p.xaxis.minor_tick_line_color = None
p.xaxis.major_label_standoff = 28
p.xaxis.axis_label_standoff = 10
p.yaxis.major_label_standoff = 20
p.yaxis.axis_label_standoff = 23

p.grid.grid_line_color = "#b0b0b0"
p.grid.grid_line_width = 4.6
p.outline_line_color = "black"
p.outline_line_width = 4.6
p.outline_line_alpha = 1.0

# legend
lg = p.legend[0]
lg.location = "top_right"
lg.margin = 27
lg.padding = 14
lg.spacing = 20
lg.label_height = 56
lg.glyph_height = 56
lg.glyph_width = 116
lg.label_standoff = 56
lg.label_text_font = FONT
lg.label_text_font_size = "58px"
lg.label_text_color = "black"
lg.border_line_color = "#cccccc"
lg.border_line_alpha = 0.8
lg.border_line_width = 5
lg.background_fill_color = "white"
lg.background_fill_alpha = 0.8
if "border_radius" in lg.properties():
    lg.border_radius = 16

open("out.html", "w").write(file_html(p, INLINE))
